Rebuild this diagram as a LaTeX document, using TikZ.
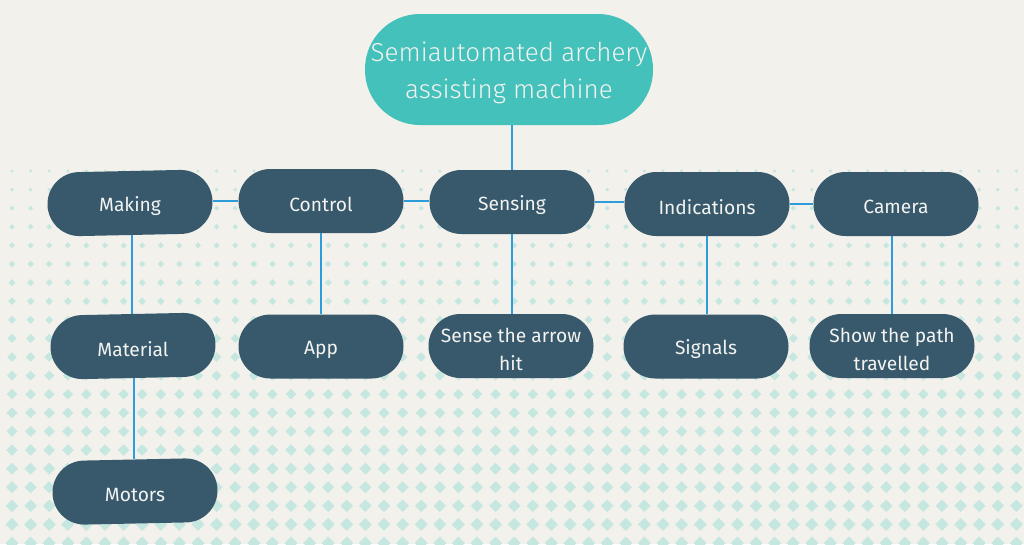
\documentclass[tikz,border=0pt]{standalone}
\usepackage{fontspec}
\setmainfont{Fira Sans}
\newfontfamily\titlefont{Fira Sans Light}
\definecolor{bgc}{HTML}{F2F1EC}
\definecolor{dotc}{HTML}{C6E7E0}
\definecolor{boxc}{HTML}{37596B}
\definecolor{titlec}{HTML}{44C1BA}
\definecolor{linec}{HTML}{2D9CDB}
\definecolor{txtc}{HTML}{F3F3F1}
\tikzset{
  box/.style={fill=boxc, rounded corners=31.9pt, minimum width=165pt, minimum height=64pt,
    inner sep=0pt},
  lbl/.style={inner sep=0pt, align=center, text=txtc, yshift=-3pt,
    font=\fontsize{19.2}{28}\selectfont},
  topbox/.style={fill=titlec, rounded corners=55pt, minimum width=288pt, minimum height=111pt,
    inner sep=0pt},
  toplbl/.style={inner sep=0pt, align=center, text=txtc, yshift=-3pt,
    font=\titlefont\fontsize{26}{37}\selectfont},
  conn/.style={draw=linec, line width=2pt}
}
\begin{document}
\begin{tikzpicture}[x=1pt,y=-1pt]
\useasboundingbox (0,0) rectangle (1024,544);
\fill[bgc] (0,0) rectangle (1024,544);
% halftone diamonds
\foreach \k/\w in {0/3.5,1/4,2/5,3/5.5,4/6,5/6.5,6/7,7/7.5,8/8,9/9,10/9.5,11/10,12/10.5,13/11,14/11,15/11.5,16/12,17/12,18/12.5,19/13,20/13}{
  \pgfmathsetmacro{\yy}{171+18.6*\k}
  \pgfmathsetmacro{\hh}{\w/2}
  \foreach \j in {0,...,54}{
    \pgfmathsetmacro{\xx}{12+18.6*\j}
    \fill[dotc] (\xx,\yy) +(-\hh,0) -- +(0,-\hh) -- +(\hh,0) -- +(0,\hh) -- cycle;
  }
}
% nodes
\node[topbox, label={[toplbl]center:Semiautomated archery\\assisting machine}] (title) at (509,69.5) {};
\node[box, rotate=1.2, label={[lbl]center:Making}] (making) at (130,203) {};
\node[box, label={[lbl]center:Control}] (control) at (321,201) {};
\node[box, label={[lbl]center:Sensing}] (sensing) at (512,202) {};
\node[box, label={[lbl]center:Indications}] (indic) at (707,204) {};
\node[box, label={[lbl]center:Camera}] (camera) at (896,204) {};
\node[box, rotate=1.2, label={[lbl]center:Material}] (material) at (133,346) {};
\node[box, label={[lbl]center:App}] (app) at (321,346.5) {};
\node[box, label={[lbl]center:Sense the arrow\\hit}] (sense) at (511,346) {};
\node[box, label={[lbl]center:Signals}] (signals) at (706,346.5) {};
\node[box, label={[lbl]center:Show the path\\travelled}] (show) at (892,346) {};
\node[box, rotate=1.2, label={[lbl]center:Motors}] (motors) at (135,491.5) {};
% connectors
\draw[conn] (sensing.north |- title.south) -- (sensing.north);
\draw[conn] (making.east) -- (making.east -| control.west);
\draw[conn] (control.east) -- (control.east -| sensing.west);
\draw[conn] (sensing.east) -- (sensing.east -| indic.west);
\draw[conn] (indic.east) -- (indic.east -| camera.west);
\draw[conn] (material.north |- making.south) -- (material.north);
\draw[conn] (motors.north |- material.south) -- (motors.north);
\draw[conn] (control.south) -- (app.north);
\draw[conn] (sensing.south) -- (sensing.south |- sense.north);
\draw[conn] (indic.south) -- (indic.south |- signals.north);
\draw[conn] (show.north |- camera.south) -- (show.north);
\end{tikzpicture}
\end{document}
